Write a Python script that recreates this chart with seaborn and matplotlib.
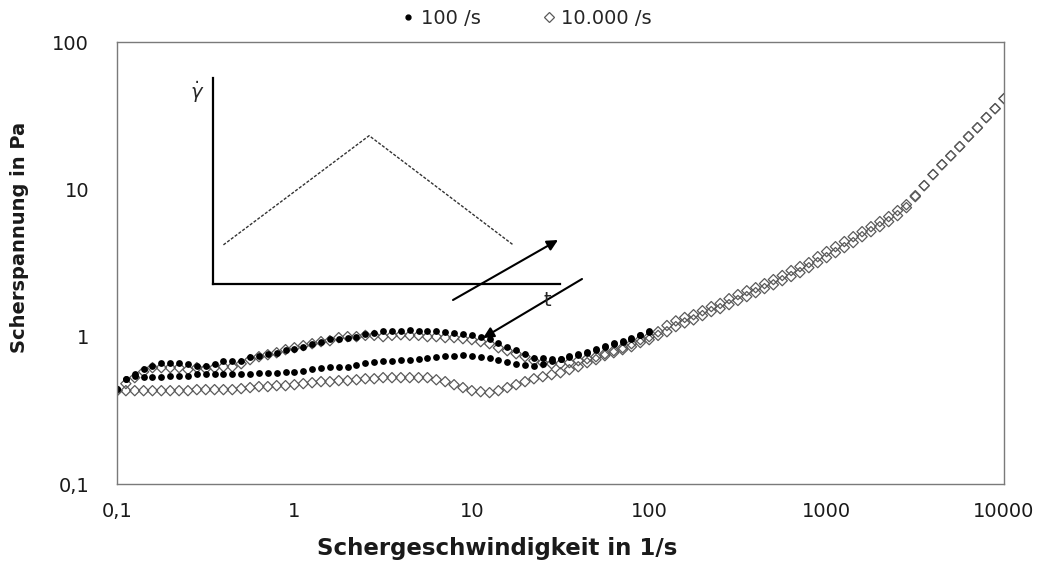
import numpy as np
import pandas as pd
import matplotlib
matplotlib.use("Agg")
import matplotlib.pyplot as plt
import matplotlib.ticker as mticker
from matplotlib.lines import Line2D
import seaborn as sns

# measurement grid: log-spaced ramps, 20 points per decade
rate_100 = np.geomspace(0.1, 100, 61)
rate_10000 = np.geomspace(0.1, 10000, 101)

# shear stress in Pa (both branches listed in rising rate order)
stress_100_up = [
    0.444, 0.518, 0.561, 0.606, 0.635, 0.666, 0.666, 0.666, 0.655, 0.635,
    0.635, 0.655, 0.687, 0.687, 0.687, 0.731, 0.743, 0.766, 0.778, 0.816,
    0.828, 0.855, 0.896, 0.925, 0.969, 0.969, 0.985, 1.00, 1.05, 1.06,
    1.09, 1.10, 1.10, 1.11, 1.10, 1.09, 1.10, 1.07, 1.06, 1.05,
    1.03, 1.00, 0.969, 0.911, 0.855, 0.816, 0.766, 0.720, 0.720, 0.709,
    0.709, 0.743, 0.766, 0.790, 0.828, 0.869, 0.911, 0.939, 0.985, 1.03,
    1.10]
stress_100_down = [
    0.444, 0.518, 0.543, 0.535, 0.535, 0.535, 0.543, 0.543, 0.543, 0.561,
    0.561, 0.561, 0.561, 0.561, 0.561, 0.561, 0.569, 0.569, 0.569, 0.578,
    0.578, 0.587, 0.606, 0.616, 0.625, 0.625, 0.625, 0.645, 0.666, 0.676,
    0.687, 0.687, 0.698, 0.698, 0.709, 0.720, 0.731, 0.743, 0.743, 0.754,
    0.743, 0.731, 0.720, 0.698, 0.676, 0.655, 0.645, 0.635, 0.655, 0.687,
    0.709, 0.731, 0.754, 0.778, 0.816, 0.855, 0.896, 0.925, 0.969, 1.02,
    1.08]
stress_10000_up = [
    0.430, 0.480, 0.527, 0.578, 0.616, 0.616, 0.616, 0.616, 0.597, 0.616,
    0.606, 0.616, 0.625, 0.625, 0.655, 0.698, 0.731, 0.754, 0.778, 0.816,
    0.841, 0.869, 0.896, 0.925, 0.939, 0.985, 1.00, 1.00, 1.02, 1.02,
    1.00, 1.02, 1.03, 1.02, 1.02, 1.00, 1.00, 0.985, 0.985, 0.969,
    0.954, 0.925, 0.896, 0.841, 0.803, 0.766, 0.731, 0.687, 0.666, 0.655,
    0.655, 0.666, 0.687, 0.709, 0.731, 0.766, 0.803, 0.841, 0.896, 0.954,
    1.00, 1.08, 1.19, 1.28, 1.35, 1.41, 1.50, 1.60, 1.68, 1.81,
    1.93, 2.05, 2.15, 2.29, 2.44, 2.60, 2.81, 2.99, 3.18, 3.49,
    3.78, 4.08, 4.42, 4.77, 5.16, 5.58, 6.04, 6.53, 7.17, 7.87,
    9.06, 10.6, 12.6, 14.7, 16.9, 19.5, 22.8, 26.2, 30.7, 35.3,
    41.3]
stress_10000_down = [
    0.430, 0.430, 0.430, 0.430, 0.430, 0.430, 0.430, 0.430, 0.430, 0.437,
    0.437, 0.437, 0.437, 0.437, 0.444, 0.451, 0.458, 0.458, 0.465, 0.465,
    0.472, 0.480, 0.487, 0.495, 0.495, 0.503, 0.503, 0.510, 0.518, 0.518,
    0.527, 0.527, 0.527, 0.527, 0.527, 0.527, 0.510, 0.495, 0.472, 0.451,
    0.430, 0.423, 0.417, 0.430, 0.451, 0.472, 0.495, 0.518, 0.535, 0.552,
    0.569, 0.597, 0.625, 0.666, 0.698, 0.743, 0.778, 0.816, 0.855, 0.911,
    0.954, 1.02, 1.08, 1.17, 1.24, 1.30, 1.39, 1.48, 1.55, 1.65,
    1.76, 1.87, 1.99, 2.12, 2.25, 2.40, 2.56, 2.72, 2.94, 3.18,
    3.44, 3.72, 4.02, 4.35, 4.77, 5.16, 5.58, 6.04, 6.63, 7.51,
    8.92, 10.6, 12.6, 14.7, 16.9, 19.5, 22.8, 26.2, 30.7, 35.3,
    41.3]

series_labels = ["100 /s", "10.000 /s"]
x_ticks = [0.1, 1, 10, 100, 1000, 10000]
x_ticklabels = ["0,1", "1", "10", "100", "1000", "10000"]
y_ticks = [0.1, 1, 10, 100]
y_ticklabels = ["0,1", "1", "10", "100"]

# schematic of the ramp profile (inset, arbitrary units)
ramp_time = [0.03, 0.45, 0.865]
ramp_rate = [0.19, 0.72, 0.19]

df = pd.concat([
    pd.DataFrame({"rate": rate_100, "stress": stress_100_up, "series": series_labels[0]}),
    pd.DataFrame({"rate": rate_100, "stress": stress_100_down, "series": series_labels[0]}),
    pd.DataFrame({"rate": rate_10000, "stress": stress_10000_up, "series": series_labels[1]}),
    pd.DataFrame({"rate": rate_10000, "stress": stress_10000_down, "series": series_labels[1]}),
], ignore_index=True)

sns.set_style("white")
plt.rcParams["font.family"] = ["DejaVu Sans"]
plt.rcParams["mathtext.fontset"] = "dejavusans"

W, H = 1042, 562
fig = plt.figure(figsize=(W / 100, H / 100), dpi=100)
ax = fig.add_axes([117 / W, 1 - 484 / H, (1004 - 117) / W, (484 - 42) / H])

spine_col = "#7a7a7a"
dia_col = "#5a5a5a"

# open diamonds (10.000 /s)
sns.scatterplot(data=df[df["series"] == series_labels[1]], x="rate", y="stress",
                marker="D", s=27, color=dia_col, linewidth=0.9, ax=ax, legend=False)
ax.collections[-1].set_facecolor("none")
ax.collections[-1].set_edgecolor(dia_col)

# filled dots (100 /s)
sns.scatterplot(data=df[df["series"] == series_labels[0]], x="rate", y="stress",
                marker="o", s=24, color="black", edgecolor="black", linewidth=0,
                ax=ax, legend=False)

ax.set_xscale("log")
ax.set_yscale("log")
ax.set_xlim(0.1, 10000)
ax.set_ylim(0.1, 100)
ax.xaxis.set_major_locator(mticker.FixedLocator(x_ticks))
ax.xaxis.set_major_formatter(mticker.FixedFormatter(x_ticklabels))
ax.yaxis.set_major_locator(mticker.FixedLocator(y_ticks))
ax.yaxis.set_major_formatter(mticker.FixedFormatter(y_ticklabels))
for axis in (ax.xaxis, ax.yaxis):
    axis.set_minor_locator(mticker.LogLocator(base=10, subs=np.arange(2, 10), numticks=20))
    axis.set_minor_formatter(mticker.NullFormatter())

ax.tick_params(which="both", direction="in", color=spine_col, width=0.8,
               labelcolor="#1a1a1a", labelsize=14)
ax.tick_params(which="major", length=6)
ax.tick_params(which="minor", length=5)
ax.tick_params(axis="x", pad=13)
ax.tick_params(axis="y", pad=20)
for sp in ax.spines.values():
    sp.set_visible(True)
    sp.set_color(spine_col)
    sp.set_linewidth(1.0)
ax.set_xlabel("")
ax.set_ylabel("")

fig.text(497 / W, 1 - 548 / H, "Schergeschwindigkeit in 1/s", ha="center", va="center",
         fontsize=16.5, fontweight="bold", color="#1a1a1a")
fig.text(20 / W, 1 - 237 / H, "Scherspannung in Pa", ha="center", va="center",
         rotation=90, fontsize=14, fontweight="bold", color="#1a1a1a")

# legend above the plot
handles = [
    Line2D([], [], marker="o", ls="none", color="black", markersize=3.5),
    Line2D([], [], marker="D", ls="none", markerfacecolor="none",
           markeredgecolor=dia_col, markeredgewidth=0.9, markersize=5),
]
fig.legend(handles, series_labels, loc="center", bbox_to_anchor=(527 / W, 1 - 18 / H),
           ncol=2, frameon=False, fontsize=14, handlelength=0.6, handletextpad=0.35,
           columnspacing=3.2)

# inset: triangular shear-rate profile
ax_in = fig.add_axes([213 / W, 1 - 284 / H, (560 - 213) / W, (284 - 78) / H])
ax_in.patch.set_alpha(0)
ax_in.plot(ramp_time, ramp_rate, color="#333333", lw=1.0, ls=(0, (2.2, 1.2)))
ax_in.set_xlim(0, 1)
ax_in.set_ylim(0, 1)
ax_in.set_xticks([])
ax_in.set_yticks([])
for side in ("top", "right"):
    ax_in.spines[side].set_visible(False)
for side in ("left", "bottom"):
    ax_in.spines[side].set_color("black")
    ax_in.spines[side].set_linewidth(1.6)
ax_in.text(-0.046, 0.93, r"$\dot{\gamma}$", transform=ax_in.transAxes,
           ha="center", va="center", fontsize=14)
ax_in.text(0.962, -0.078, "t", transform=ax_in.transAxes,
           ha="center", va="center", fontsize=14)

# direction arrows (up-ramp / down-ramp)
arrow_kw = dict(arrowstyle="-|>", color="black", lw=1.5, mutation_scale=16,
                shrinkA=0, shrinkB=0)
ax.annotate("", xy=(558, H - 240), xytext=(453, H - 300), xycoords="figure pixels",
            textcoords="figure pixels", arrowprops=arrow_kw)
ax.annotate("", xy=(483, H - 338), xytext=(582, H - 279), xycoords="figure pixels",
            textcoords="figure pixels", arrowprops=arrow_kw)

fig.savefig("out.png", dpi=100, facecolor="white")
